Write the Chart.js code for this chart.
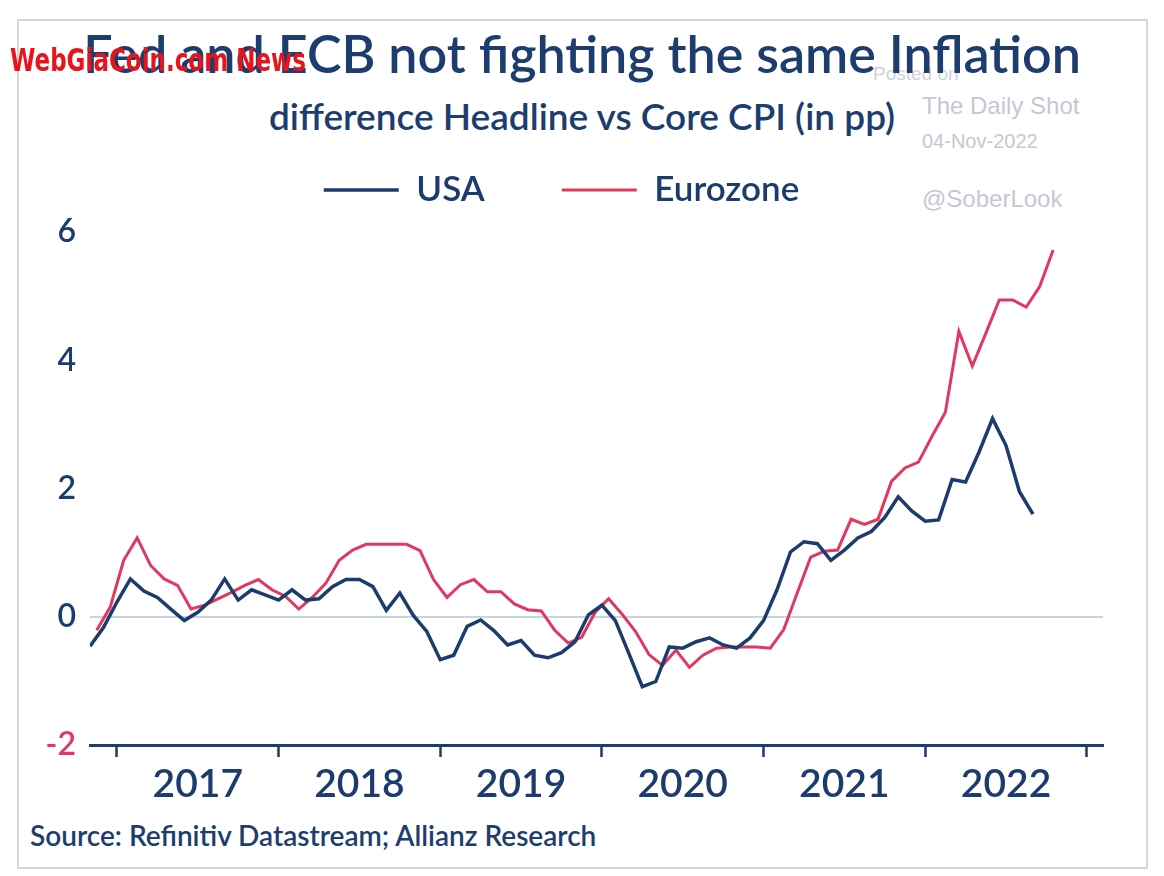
<!DOCTYPE html>
<html>
<head>
<meta charset="utf-8">
<script src="https://cdn.jsdelivr.net/npm/chart.js@4"></script>
<style>
  body { margin: 0; background: #fff; }
  #page { position: relative; width: 1164px; height: 876px; overflow: hidden; }
  .abs { position: absolute; white-space: nowrap; line-height: 1; }
  #frame { position: absolute; left: 17px; top: 19px; width: 1127px; height: 846px; border: 2px solid #d6d6d6; }
  .navy { color: #1d3d6f; font-family: Lato, sans-serif; font-weight: 600; }
  .shot { color: #c4c8d4; font-family: "Liberation Sans", Arial, sans-serif; }
  canvas { position: absolute; left: 0; top: 0; }
</style>
</head>
<body>
<div id="page">
  <div id="frame"></div>
  <div class="abs shot" style="left:873px; top:64px; font-size:19px; color:#cfd2da;">Posted on</div>
  <div class="abs shot" style="left:922px; top:94px; font-size:24px;">The Daily Shot</div>
  <div class="abs shot" style="left:922px; top:131px; font-size:20px;">04-Nov-2022</div>
  <div class="abs shot" style="left:922px; top:187px; font-size:24px;">@SoberLook</div>
  <div class="abs navy" style="left:0; width:1164px; text-align:center; top:27px; font-size:52px;">Fed and ECB not fighting the same Inflation</div>
  <div class="abs navy" style="left:0; width:1164px; text-align:center; top:97px; font-size:37px;">difference Headline vs Core CPI (in pp)</div>
  <div class="abs navy" style="left:30px; top:821px; font-size:28px;">Source: Refinitiv Datastream; Allianz Research</div>
  <canvas id="chart" width="1164" height="876"></canvas>
  <div class="abs" style="left:10px; top:44px; font-size:32px; font-weight:bold; color:#e8141b; font-family:'Liberation Sans Narrow','DejaVu Sans Condensed',sans-serif; transform:scaleX(0.8); transform-origin:0 0;">WebGiaCoin.com News</div>
</div>
<script>
// months counted from Jan 2017 (0 = Jan 2017)
const firstMonth = -2;          // Nov 2016
const ezShift = 0.5;            // Eurozone points sit half a month later
const yearTicks = [0, 12, 24, 36, 48, 60, 72];
const yearLabelPos = [6, 18, 30, 42, 54, 66];
const yearLabels = ['2017', '2018', '2019', '2020', '2021', '2022'];
const yTicks = [-2, 0, 2, 4, 6];

const usaValues = [
  -0.46, -0.17, 0.23, 0.59, 0.40, 0.30, 0.12, -0.06, 0.07, 0.26, 0.59, 0.26,
  0.42, 0.34, 0.26, 0.42, 0.26, 0.28, 0.47, 0.58, 0.58, 0.47, 0.10, 0.37,
  0.02, -0.23, -0.67, -0.60, -0.15, -0.05, -0.22, -0.44, -0.37, -0.60, -0.64, -0.56,
  -0.39, 0.03, 0.18, -0.06, -0.57, -1.09, -1.01, -0.47, -0.49, -0.39, -0.33, -0.44,
  -0.49, -0.33, -0.06, 0.42, 1.01, 1.17, 1.14, 0.88, 1.04, 1.23, 1.33, 1.55,
  1.87, 1.65, 1.49, 1.51, 2.14, 2.10, 2.57, 3.09, 2.67, 1.95, 1.60
];
const ezValues = [
  -0.21, 0.15, 0.88, 1.23, 0.80, 0.59, 0.49, 0.12, 0.18, 0.28, 0.38, 0.49,
  0.58, 0.42, 0.32, 0.12, 0.30, 0.52, 0.88, 1.04, 1.13, 1.13, 1.13, 1.13,
  1.03, 0.58, 0.30, 0.50, 0.58, 0.39, 0.39, 0.20, 0.11, 0.09, -0.21, -0.41,
  -0.32, 0.07, 0.28, 0.04, -0.23, -0.59, -0.76, -0.52, -0.79, -0.60, -0.49, -0.47,
  -0.47, -0.47, -0.49, -0.20, 0.37, 0.93, 1.02, 1.04, 1.52, 1.44, 1.52, 2.11,
  2.32, 2.41, 2.81, 3.19, 4.45, 3.91, 4.42, 4.94, 4.94, 4.83, 5.15, 5.72
];

const NAVY = '#1c3b6e';
const RED = '#e0385f';

const usaData = usaValues.map((v, i) => ({ x: firstMonth + i, y: v }));
const ezData = ezValues.map((v, i) => ({ x: firstMonth + i + ezShift, y: v }));

const xMin = -2, xMax = 73.2;

new Chart(document.getElementById('chart'), {
  type: 'line',
  data: {
    datasets: [
      { label: 'USA', data: usaData, borderColor: NAVY, backgroundColor: NAVY, borderWidth: 3.5, pointRadius: 0, tension: 0 },
      { label: 'Eurozone', data: ezData, borderColor: RED, backgroundColor: RED, borderWidth: 3, pointRadius: 0, tension: 0 }
    ]
  },
  options: {
    responsive: false,
    animation: false,
    devicePixelRatio: 1,
    layout: { padding: { top: 95.5, left: 20, right: 61, bottom: 59 } },
    plugins: {
      tooltip: { enabled: false },
      legend: {
        labels: {
          boxWidth: 75, boxHeight: 0, padding: 77, color: NAVY,
          font: { family: 'Lato', size: 35, weight: '600' }
        }
      }
    },
    scales: {
      x: {
        type: 'linear', position: 'bottom', min: xMin, max: xMax, weight: 0,
        afterBuildTicks: s => { s.ticks = yearTicks.map(v => ({ value: v })); },
        afterFit: s => { s.height = 12; },
        ticks: { display: false },
        grid: { drawOnChartArea: false, drawTicks: true, tickLength: 12, tickColor: NAVY, tickWidth: 2.5 },
        border: { color: NAVY, width: 3 }
      },
      x2: {
        type: 'linear', position: 'bottom', min: xMin, max: xMax, weight: 1,
        afterBuildTicks: s => { s.ticks = yearLabelPos.map(v => ({ value: v })); },
        afterFit: s => { s.height = 60; },
        ticks: {
          autoSkip: false, maxRotation: 0, padding: -4, color: NAVY,
          font: { family: 'Lato', size: 39, weight: '600' },
          callback: (v, i) => yearLabels[i]
        },
        grid: { display: false },
        border: { display: false }
      },
      y: {
        min: -2, max: 6.226,
        afterBuildTicks: s => { s.ticks = yTicks.map(v => ({ value: v })); },
        afterFit: s => { s.width = 70; },
        ticks: {
          padding: 14,
          color: c => c.tick.value < 0 ? RED : NAVY,
          font: { family: 'Lato', size: 32, weight: '600' }
        },
        grid: {
          drawTicks: false, lineWidth: 2,
          color: c => c.tick.value === 0 ? '#c3d7e2' : 'rgba(0,0,0,0)'
        },
        border: { display: false }
      }
    }
  }
});
</script>
</body>
</html>
